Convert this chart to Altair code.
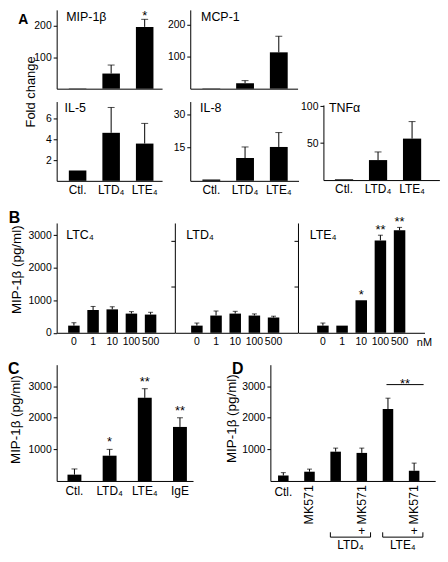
import altair as alt
import pandas as pd

# ---------------- data ----------------
A_GROUPS = ["Ctl.", "LTD₄", "LTE₄"]

MIP_MEAN = [1, 48, 196]
MIP_SEM = [0, 27, 24]
MIP_STARS = ["", "", "*"]
MIP_TICKS = [100, 200]

MCP_MEAN = [1, 17, 113]
MCP_SEM = [0, 8, 50]
MCP_TICKS = [100, 200]

IL5_MEAN = [1, 4.64, 3.6]
IL5_SEM = [0, 2.45, 1.95]
IL5_TICKS = [2, 4, 6]

IL8_MEAN = [0.6, 10.3, 15.3]
IL8_SEM = [0, 5, 6.5]
IL8_TICKS = [15, 30]

TNF_MEAN = [1, 27, 56]
TNF_SEM = [0, 11, 23]
TNF_TICKS = [50, 100]

B_CONC = ["0", "1", "10", "100", "500"]
LTC4_MEAN = [220, 700, 720, 590, 560]
LTC4_SEM = [90, 110, 80, 60, 70]
LTD4_MEAN = [220, 530, 590, 530, 470]
LTD4_SEM = [80, 140, 70, 50, 40]
LTE4_MEAN = [220, 220, 1000, 2840, 3150]
LTE4_SEM = [80, 0, 0, 160, 90]
LTE4_STARS = ["", "", "*", "**", "**"]
B_TICKS = [0, 1000, 2000, 3000]
B_MINOR_TICKS = [1420, 2820]

C_GROUPS = ["Ctl.", "LTD₄", "LTE₄", "IgE"]
C_MEAN = [200, 800, 2630, 1710]
C_SEM = [180, 200, 290, 290]
C_STARS = ["", "*", "**", "**"]
CD_TICKS = [1000, 2000, 3000]

D_GROUPS = ["Ctl.", "MK571", "LTD₄", "LTD₄ + MK571", "LTE₄", "LTE₄ + MK571"]
D_MEAN = [170, 293, 927, 888, 2278, 323]
D_SEM = [93, 82, 113, 152, 342, 242]
D_HLABELS = ["Ctl.", "", "", "", "", ""]
D_VLABELS = ["", "MK571", "", "MK571", "", "MK571"]
D_PLUS = ["", "", "", "+", "", "+"]
D_BRACKET_FROM = ["LTD₄", "LTE₄"]
D_BRACKET_TO = ["LTD₄ + MK571", "LTE₄ + MK571"]
D_BRACKET_LABEL = ["LTD₄", "LTE₄"]
D_SIG_FROM = ["LTE₄"]
D_SIG_TO = ["LTE₄ + MK571"]
D_SIG_LEVEL = [3050]
D_SIG_TEXT = ["**"]

# ---------------- layout / style ----------------
SX, SY = 0.965, 0.97
FONT = "Liberation Sans"
TICK_FS = 10.5
XLAB_FS = 12
TITLE_FS = 12.5
YTITLE_FS = 13.5
STAR_FS = 13
DIGIT_W = 0.556 * TICK_FS
YTICK = 3.5

# panel boxes in reference pixels: (left, right, top, bottom)
BOX = {
    "mip": (40, 150, 0.5, 82.3),
    "mcp": (178, 290, 0.5, 82.3),
    "il5": (40, 150, 95, 177.3),
    "il8": (178, 291, 95, 177.3),
    "tnf": (316, 437, 98.5, 176.5),
    "b1": (50, 173, 221, 335),
    "b2": (173, 301, 221, 335),
    "b3": (301, 433, 221, 335),
    "c": (50.7, 193, 367, 487.7),
    "d": (273, 445, 367, 487.7),
}
D_BARS = (27.3, 11, 8)


def band_scale(domain, width_ref, step, bw, left):
    n = len(domain)
    pi = 1 - bw / step
    po = (width_ref / step - n + pi) / 2
    align = left / (width_ref - step * (n - pi))
    return alt.Scale(domain=domain, paddingInner=pi, paddingOuter=po, align=align)


def txt(t, x, y, size=12, weight="normal", align="left", baseline="top", angle=None):
    kw = dict(fontSize=size, fontWeight=weight, align=align, baseline=baseline, color="black")
    if angle is not None:
        kw["angle"] = angle
    return alt.Chart(pd.DataFrame({"t": [t]})).mark_text(**kw).encode(
        x=alt.value(x), y=alt.value(y), text="t:N")


def panel(key, groups, mean, sem, ymax, yticks, bars, stars=None, xlabels=True,
          ylabels=True, xpad=3.3, xfs=XLAB_FS, ytick=YTICK, cap=6, star_dy=0.0,
          ytitle=None, texts=(), extra=None):
    x0, x1, y0, y1 = BOX[key]
    W, H = (x1 - x0) * SX, (y1 - y0) * SY
    n = len(groups)
    df = pd.DataFrame({"g": groups, "m": mean, "sem": sem,
                       "top": [m + s for m, s in zip(mean, sem)],
                       "star": list(stars) if stars else [""] * n})
    xscale = band_scale(groups, x1 - x0, *bars)
    xaxis = alt.Axis(title=None, labels=xlabels, ticks=False, tickSize=0, labelAngle=0,
                     labelPadding=xpad, labelFontSize=xfs, domain=True, labelOverlap=False)
    yscale = alt.Scale(domain=[0, ymax], nice=False, zero=True)
    ykw = dict(values=yticks, labels=ylabels, ticks=True, tickSize=ytick, format="d",
               labelFontSize=TICK_FS, labelPadding=2, domain=True, grid=False,
               labelOverlap=False, labelFlush=False)
    if ytitle:
        ykw.update(title=ytitle[0], titleX=ytitle[1] * SX, titleY=ytitle[2] * SY,
                   titleFontSize=YTITLE_FS, titleFontWeight="normal", titleAngle=270,
                   titleAlign="center", titleBaseline="bottom")
    else:
        ykw.update(title=None)
    yaxis = alt.Axis(**ykw)
    X = alt.X("g:N", scale=xscale, axis=xaxis)
    Ym = alt.Y("m:Q", scale=yscale, axis=yaxis)
    Yt = alt.Y("top:Q", scale=yscale, axis=yaxis)
    base = alt.Chart(df)
    err = base.transform_filter("datum.sem > 0")
    layers = [
        base.mark_bar(color="black").encode(x=X, y=Ym),
        err.mark_rule(color="black", strokeWidth=1).encode(x=X, y=Ym, y2="top:Q"),
        err.mark_tick(color="black", thickness=1, size=cap).encode(x=X, y=Yt),
        base.mark_text(fontSize=STAR_FS, baseline="alphabetic", dy=star_dy,
                       color="black").encode(x=X, y=Yt, text="star:N"),
    ]
    for t, rx, ry, kw in texts:
        layers.append(txt(t, rx * SX, ry * SY, **kw))
    if extra:
        layers += extra(xscale, xaxis, yscale, yaxis, W, H)
    return alt.layer(*layers).properties(width=W, height=H)


def d_extra(xscale, xaxis, yscale, yaxis, W, H):
    step, bw = D_BARS[0] * SX, D_BARS[1] * SX

    def X(field, bp=0.5):
        return alt.X(f"{field}:N", scale=xscale, axis=xaxis, bandPosition=bp)

    def yy(r):
        return alt.value(r * SY)

    lab = pd.DataFrame({"g": D_GROUPS, "h": D_HLABELS, "v": D_VLABELS, "p": D_PLUS})
    br = pd.DataFrame({"a": D_BRACKET_FROM, "b": D_BRACKET_TO, "t": D_BRACKET_LABEL})
    sig = pd.DataFrame({"a": D_SIG_FROM, "b": D_SIG_TO, "v": D_SIG_LEVEL, "t": D_SIG_TEXT})
    Yv = alt.Y("v:Q", scale=yscale, axis=yaxis)
    over = 0.33 * bw
    return [
        alt.Chart(lab).mark_text(fontSize=12, baseline="top", align="center", color="black")
        .encode(x=X("g"), y=yy(127.1), text="h:N"),
        alt.Chart(lab).mark_text(fontSize=12.5, baseline="middle", align="right", angle=270, color="black")
        .encode(x=X("g"), y=yy(125), text="v:N"),
        alt.Chart(lab).mark_text(fontSize=12, baseline="middle", align="center", color="black")
        .encode(x=X("g"), y=yy(173), text="p:N"),
        alt.Chart(br).mark_rule(color="black", strokeWidth=1, x2Offset=over)
        .encode(x=X("a", 0), x2=alt.X2("b:N", bandPosition=1), y=yy(179)),
        alt.Chart(br).mark_rule(color="black", strokeWidth=1)
        .encode(x=X("a", 0), y=yy(174), y2=yy(179)),
        alt.Chart(br).mark_rule(color="black", strokeWidth=1, xOffset=over)
        .encode(x=X("b", 1), y=yy(174), y2=yy(179)),
        alt.Chart(br).mark_text(fontSize=12, baseline="top", align="center", color="black",
                                dx=(step + 1.33 * bw) / 2 - bw)
        .encode(x=X("a", 1), y=yy(182.1), text="t:N"),
        alt.Chart(sig).mark_rule(color="black", strokeWidth=1, x2Offset=0.4 * bw)
        .encode(x=X("a", 0.36), x2=alt.X2("b:N", bandPosition=1), y=Yv),
        alt.Chart(sig).mark_text(fontSize=STAR_FS, baseline="alphabetic", dy=3, color="black",
                                 dx=1.12 * bw)
        .encode(x=X("a", 1), y=Yv, text="t:N"),
    ]


LETTER_A = dict(size=14, weight="bold", baseline="alphabetic")
LETTER = dict(size=16, weight="bold", baseline="alphabetic")
TITLE = dict(size=TITLE_FS)
YT = "MIP-1β (pg/ml)"

# ---------------- panel A ----------------
mip = panel("mip", A_GROUPS, MIP_MEAN, MIP_SEM, 250, MIP_TICKS, (35, 18.3, 12.7),
            stars=MIP_STARS, xlabels=False, cap=7, star_dy=1.0,
            texts=[("A", -40, 14.5, LETTER_A), ("MIP-1β", 10, 1.75, TITLE)])
mcp = panel("mcp", A_GROUPS, MCP_MEAN, MCP_SEM, 245, MCP_TICKS, (35.2, 18.6, 12.7),
            xlabels=False, cap=7, texts=[("MCP-1", 11.3, 1.75, TITLE)])
il5 = panel("il5", A_GROUPS, IL5_MEAN, IL5_SEM, 7.66, IL5_TICKS, (35, 18.3, 12.7), cap=7,
            texts=[("IL-5", 8.3, 0.65, TITLE),
                   ("Fold change", -27, -10, dict(size=13, align="center", baseline="middle", angle=270))])
il8 = panel("il8", A_GROUPS, IL8_MEAN, IL8_SEM, 35.8, IL8_TICKS, (35.2, 18.6, 12.7), cap=7,
            texts=[("IL-8", 10.3, 0.65, TITLE)])
tnf = panel("tnf", A_GROUPS, TNF_MEAN, TNF_SEM, 101.5, TNF_TICKS, (35.5, 19, 12), cap=7,
            texts=[("TNFα", 5.7, -2.85, TITLE)])

top_h = (BOX["mcp"][3] - BOX["mcp"][2]) * SY
spacer = alt.Chart(pd.DataFrame({"t": [""]})).mark_text().encode(
    x=alt.value(0.5), y=alt.value(top_h / 2), text="t:N").properties(width=1, height=top_h)

gapA = (BOX["il5"][2] - BOX["mip"][3]) * SY
col1 = alt.vconcat(mip, il5, spacing=gapA, bounds="flush")
col2 = alt.vconcat(mcp, il8, spacing=gapA, bounds="flush")
col3 = alt.vconcat(spacer, tnf, spacing=(BOX["tnf"][2] - BOX["mcp"][3]) * SY, bounds="flush")

ylab_w = YTICK + 2 + 3 * DIGIT_W
s1 = (BOX["mcp"][0] - BOX["mip"][0]) * SX - ylab_w - ((BOX["mip"][1] - BOX["mip"][0]) * SX + 0.5)
s2 = (BOX["tnf"][0] - BOX["mcp"][0]) * SX - ylab_w - ((BOX["il8"][1] - BOX["il8"][0]) * SX + 0.5)
blockA = alt.hconcat(alt.hconcat(col1, col2, spacing=s1), col3, spacing=s2)

# ---------------- panel B ----------------
b1 = panel("b1", B_CONC, LTC4_MEAN, LTC4_SEM, 3376, B_TICKS, (20, 12, 12), xpad=4, xfs=10.5, cap=5,
           ytitle=(YT, -35, 48),
           texts=[("B", -50, 0.5, LETTER), ("LTC₄", 10, 5.95, TITLE)])
b2 = panel("b2", B_CONC, LTD4_MEAN, LTD4_SEM, 3376, B_MINOR_TICKS, (20, 12, 17), xpad=4, xfs=10.5,
           cap=5, ylabels=False, ytick=4, texts=[("LTD₄", 12, 5.95, TITLE)])
b3 = panel("b3", B_CONC, LTE4_MEAN, LTE4_SEM, 3376, B_MINOR_TICKS, (20, 12, 20), xpad=4, xfs=10.5,
           cap=5, ylabels=False, ytick=4, stars=LTE4_STARS, star_dy=-1.2,
           texts=[("LTE₄", 12.3, 5.95, TITLE), ("nM", 124, 118.1, dict(size=11))])
rowB = alt.hconcat(b1, b2, b3, spacing=0, bounds="flush")

# ---------------- panels C, D ----------------
c = panel("c", C_GROUPS, C_MEAN, C_SEM, 3680, CD_TICKS, (36.7, 14.5, 11.3), xpad=4.4,
          stars=C_STARS, star_dy=-3.1, cap=6, ytitle=(YT, -35.7, 56.5),
          texts=[("C", -50.7, 9.5, LETTER)])
d = panel("d", D_GROUPS, D_MEAN, D_SEM, 3680, CD_TICKS, D_BARS, xlabels=False, cap=5,
          ytitle=(YT, -33, 55.5), texts=[("D", -40, 9.5, LETTER)], extra=d_extra)
rowCD = alt.hconcat(c, d, spacing=(BOX["d"][0] - BOX["c"][1]) * SX, bounds="flush")

# ---------------- vertical gaps between rows ----------------
rowA_bottom = (BOX["il5"][3] - BOX["mip"][2]) * SY + 3.3 + XLAB_FS
rowB_top = (BOX["b1"][2] - BOX["mip"][2]) * SY + 0.5 * SY - 13
sAB = rowB_top - rowA_bottom
rowB_bottom = max((BOX["b1"][3] - BOX["b1"][2]) * SY + 4 + 10.5, 118.1 * SY + 11)
rowCD_top = (BOX["c"][2] - BOX["b1"][2]) * SY + 9.5 * SY - 13
sBC = rowCD_top - rowB_bottom

chart = alt.vconcat(alt.vconcat(blockA, rowB, spacing=sAB), rowCD, spacing=sBC).properties(padding=0)

chart = (chart.configure(font=FONT)
         .configure_view(strokeWidth=0)
         .configure_axis(domainColor="black", tickColor="black", labelColor="black",
                         titleColor="black", domainWidth=1, tickWidth=1,
                         labelFont=FONT, titleFont=FONT, grid=False))

chart.save("out.html", embed_options={"renderer": "svg", "actions": False})
